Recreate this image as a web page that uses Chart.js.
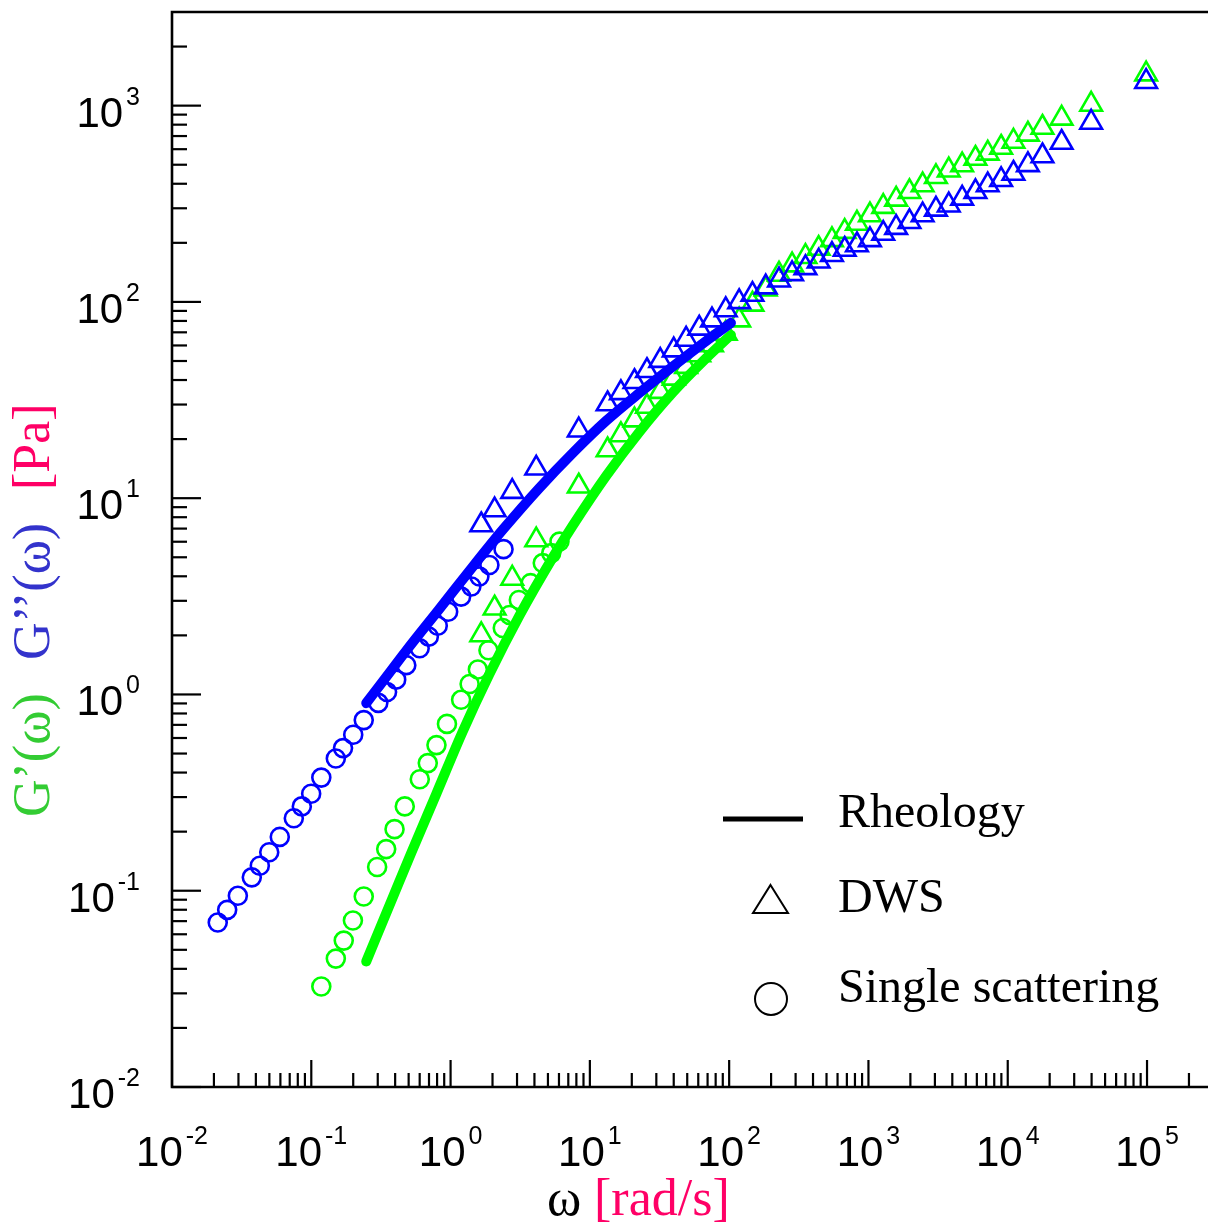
<!DOCTYPE html>
<html><head><meta charset="utf-8">
<script src="https://cdn.jsdelivr.net/npm/chart.js@4.4.1/dist/chart.umd.min.js"></script>
<style>html,body{margin:0;padding:0;background:#fff;}canvas{display:block;}</style>
</head><body>
<canvas id="c" width="1208" height="1227"></canvas>
<script>
// ---------------- data ----------------
// Single scattering, G''(omega)  (blue circles)
const omegaSSLoss = [0.0213,0.0249,0.0297,0.0374,0.0427,0.0499,0.0594,0.0749,0.0855,0.0998,0.118,0.150,0.169,0.200,0.238,0.303,0.350,0.407,0.481,0.600,0.698,0.809,0.961,1.19,1.41,1.61,1.90,2.40];
const gLossSS = [0.0689,0.0799,0.0942,0.117,0.134,0.157,0.188,0.234,0.269,0.312,0.377,0.472,0.533,0.623,0.740,0.906,1.03,1.19,1.41,1.72,1.97,2.24,2.64,3.15,3.55,3.99,4.57,5.50];
// Single scattering, G'(omega)  (green circles)
const omegaSSStor = [0.118,0.150,0.171,0.199,0.238,0.297,0.345,0.396,0.469,0.601,0.686,0.792,0.942,1.19,1.37,1.57,1.87,2.37,2.65,3.09,3.75,4.59,5.28,6.05];
const gStorSS = [0.0325,0.0451,0.0557,0.0705,0.0934,0.132,0.163,0.206,0.269,0.370,0.447,0.552,0.708,0.939,1.13,1.34,1.68,2.18,2.54,3.03,3.69,4.67,5.25,6.01];
// DWS (triangles), same frequencies for G' and G''
const omegaDWS = [1.66,2.07,2.77,4.12,8.32,13.4,16.7,20.9,25.7,32.0,40.0,49.1,61.0,75.3,94.5,118,147,183,228,283,353,439,547,675,827,1025,1277,1581,1970,2449,3052,3772,4707,5864,7185,8966,10990,13960,17750,24370,39690,98510];
const gLossDWS = [7.30,8.70,10.8,14.2,22.2,30.2,34.4,39.2,44.6,50.2,56.8,64.4,73.3,80.8,91.0,100,109,119,129,139,149,161,174,185,195,207,223,239,256,277,296,311,337,364,394,419,451,499,554,649,821,1324];
const gStorDWS = [2.01,2.75,3.90,6.12,11.5,17.6,21.0,25.0,29.3,34.9,40.8,46.8,53.6,60.3,69.1,80.8,97.1,116,138,154,170,187,207,228,251,277,306,333,364,394,434,469,498,538,571,612,657,714,774,861,1014,1447];
// Rheology (thick lines)
const omegaRheoLoss = [0.248,0.364,0.480,0.832,1.44,2.40,4.35,7.54,13.1,22.7,39.4,68.4,103];
const gLossRheo = [0.903,1.29,1.67,2.73,4.47,6.98,11.3,17.0,24.8,34.4,46.9,63.3,78.2];
const omegaRheoStor = [0.248,0.396,0.522,0.792,1.22,1.90,3.12,5.42,7.54,13.1,22.7,39.4,68.4,103];
const gStorRheo = [0.0436,0.0973,0.156,0.313,0.646,1.27,2.52,4.99,7.26,13.0,21.8,34.6,51.7,67.9];

// axis ranges and tick labels
const xRange = [0.01, 2.74e5];
const yRange = [0.01, 3000];
const xTickExponents = [-2,-1,0,1,2,3,4,5];
const yTickExponents = [-2,-1,0,1,2,3];
const legendLabels = ['Rheology','DWS','Single scattering'];

// ---------------- styling ----------------
const GREEN = '#00ff00', BLUE = '#0000ff';
const SANS = '"Liberation Sans", Arial, sans-serif';
const SERIF = '"Liberation Serif", "Times New Roman", serif';

function pts(xs, ys){ return xs.map((x,i)=>({x:x, y:ys[i]})); }

function drawPow(ctx, exp, x, baseline, align){
  const mainFont = '42px ' + SANS, supFont = '25px ' + SANS;
  ctx.font = mainFont; const wm = ctx.measureText('10').width;
  const s = String(exp);
  ctx.font = supFont; const ws = ctx.measureText(s).width;
  const gap = 3;
  const total = wm + gap + ws;
  let x0 = align === 'right' ? x - total : x - total/2;
  ctx.textAlign = 'left'; ctx.textBaseline = 'alphabetic';
  ctx.font = mainFont; ctx.fillText('10', x0, baseline);
  ctx.font = supFont; ctx.fillText(s, x0 + wm + gap, baseline - 22);
}

const decorations = {
  id: 'decorations',
  afterDraw(chart){
    const ctx = chart.ctx, xs = chart.scales.x, ys = chart.scales.y, a = chart.chartArea;
    ctx.save();
    ctx.strokeStyle = '#000'; ctx.fillStyle = '#000';
    ctx.lineWidth = 2.6; ctx.lineCap = 'butt';
    ctx.beginPath();
    ctx.moveTo(a.left - 1.3, a.top); ctx.lineTo(a.right, a.top);
    ctx.moveTo(a.left, a.top); ctx.lineTo(a.left, a.bottom);
    ctx.moveTo(a.left - 1.3, a.bottom); ctx.lineTo(a.right, a.bottom);
    ctx.stroke();
    ctx.lineWidth = 2.2;
    // x ticks (inward)
    for (let e = -2; e <= 5; e++) for (let m = 1; m <= 9; m++) {
      const v = m * Math.pow(10, e);
      if (v < xs.min * 0.999 || v > xs.max) continue;
      const px = xs.getPixelForValue(v), L = m === 1 ? 27 : 14;
      ctx.beginPath(); ctx.moveTo(px, a.bottom); ctx.lineTo(px, a.bottom - L); ctx.stroke();
    }
    // y ticks (inward)
    for (let e = -2; e <= 3; e++) for (let m = 1; m <= 9; m++) {
      const v = m * Math.pow(10, e);
      if (v < ys.min * 0.999 || v > ys.max * 0.999) continue;
      const py = ys.getPixelForValue(v), L = m === 1 ? 29 : 15;
      ctx.beginPath(); ctx.moveTo(a.left, py); ctx.lineTo(a.left + L, py); ctx.stroke();
    }
    // tick labels
    xTickExponents.forEach(e => drawPow(ctx, e, xs.getPixelForValue(Math.pow(10, e)), 1166, 'center'));
    yTickExponents.forEach(e => drawPow(ctx, e, 140, ys.getPixelForValue(Math.pow(10, e)) + 21, 'right'));

    // x title
    ctx.font = '52px ' + SERIF; ctx.textAlign = 'left'; ctx.textBaseline = 'alphabetic';
    ctx.fillStyle = '#000'; ctx.fillText('ω', 547, 1215);
    ctx.fillStyle = '#ff0066'; ctx.fillText('[rad/s]', 594, 1215);
    // y title
    ctx.save();
    ctx.translate(49, 0); ctx.rotate(-Math.PI/2);
    ctx.fillStyle = '#33cc33'; ctx.fillText('G’(ω)', -817, 0);
    ctx.fillStyle = '#3333cc'; ctx.fillText('G’’(ω)', -660, 0);
    ctx.fillStyle = '#ff0066'; ctx.fillText('[Pa]', -490, 0);
    ctx.restore();

    // legend
    ctx.fillStyle = '#000'; ctx.strokeStyle = '#000';
    ctx.lineWidth = 5; ctx.beginPath(); ctx.moveTo(723, 819); ctx.lineTo(803, 819); ctx.stroke();
    ctx.lineWidth = 2; ctx.lineJoin = 'miter';
    ctx.beginPath(); ctx.moveTo(770.5, 885); ctx.lineTo(788, 913); ctx.lineTo(753, 913); ctx.closePath(); ctx.stroke();
    ctx.beginPath(); ctx.arc(771, 999, 16, 0, Math.PI*2); ctx.stroke();
    ctx.font = '48px ' + SERIF;
    ctx.fillText(legendLabels[0], 838, 827);
    ctx.fillText(legendLabels[1], 838, 912);
    ctx.fillText(legendLabels[2], 838, 1002);
    ctx.restore();
  }
};

const lineDs = (label, xs, ys, color) => ({
  label, data: pts(xs, ys), showLine: true, borderColor: color, backgroundColor: color,
  borderWidth: 10, pointRadius: 0, borderCapStyle: 'round', borderJoinStyle: 'round',
  cubicInterpolationMode: 'monotone', clip: false
});
const markDs = (label, xs, ys, color, style, r) => ({
  label, data: pts(xs, ys), showLine: false, borderColor: color, backgroundColor: 'rgba(0,0,0,0)',
  pointStyle: style, pointRadius: r, pointBorderWidth: 2.6, borderWidth: 2.6, clip: false
});

new Chart(document.getElementById('c'), {
  type: 'scatter',
  data: { datasets: [
    lineDs('G\'\' rheology', omegaRheoLoss, gLossRheo, BLUE),
    lineDs('G\' rheology', omegaRheoStor, gStorRheo, GREEN),
    markDs('G\'\' DWS', omegaDWS, gLossDWS, BLUE, 'triangle', 12.5),
    markDs('G\' DWS', omegaDWS, gStorDWS, GREEN, 'triangle', 12.5),
    markDs('G\'\' single scattering', omegaSSLoss, gLossSS, BLUE, 'circle', 9),
    markDs('G\' single scattering', omegaSSStor, gStorSS, GREEN, 'circle', 9)
  ]},
  options: {
    responsive: false, animation: false, events: [],
    layout: { autoPadding: false, padding: { left: 172, top: 12, right: 0, bottom: 140 } },
    scales: {
      x: { type: 'logarithmic', min: xRange[0], max: xRange[1], display: false },
      y: { type: 'logarithmic', min: yRange[0], max: yRange[1], display: false }
    },
    plugins: { legend: { display: false }, tooltip: { enabled: false } }
  },
  plugins: [decorations]
});
</script>
</body></html>
